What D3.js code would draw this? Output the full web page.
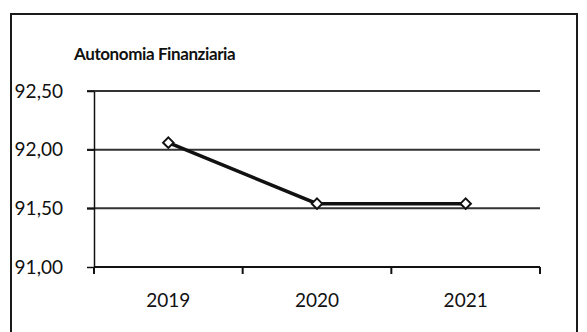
<!DOCTYPE html>
<html>
<head>
<meta charset="utf-8">
<script src="https://cdn.jsdelivr.net/npm/d3@7"></script>
<style>
  html, body { margin: 0; padding: 0; background: #fff; }
  svg { display: block; }
  text { font-family: "Lato", "Open Sans", sans-serif; fill: #111; }
</style>
</head>
<body>
<svg id="chart" width="587" height="332"></svg>
<script>
const title = "Autonomia Finanziaria";
const years = ["2019", "2020", "2021"];
const values = [92.06, 91.54, 91.54];
const yTicks = [91.0, 91.5, 92.0, 92.5];

const svg = d3.select("#chart");
const W = 587, H = 332;
const plot = { left: 94, right: 540, top: 91, bottom: 267 };

// outer frame (left, top, right edges)
svg.append("path")
  .attr("d", `M11,${H} L11,14 L577,14 L577,${H}`)
  .attr("fill", "none")
  .attr("stroke", "#1a1a1a")
  .attr("stroke-width", 2);

const x = d3.scaleBand().domain(years).range([plot.left, plot.right]).padding(0);
const y = d3.scaleLinear().domain([91.0, 92.5]).range([plot.bottom, plot.top]);

// horizontal gridlines
svg.append("g")
  .selectAll("line")
  .data(yTicks.filter(d => d > 91.0))
  .join("line")
  .attr("x1", plot.left - 7)
  .attr("x2", plot.right)
  .attr("y1", d => y(d))
  .attr("y2", d => y(d))
  .attr("stroke", "#333")
  .attr("stroke-width", 2);

// y axis
const fmt = d => d3.format(".2f")(d).replace(".", ",");
const yAxis = svg.append("g")
  .attr("transform", `translate(${plot.left},0)`)
  .call(d3.axisLeft(y).tickValues(yTicks).tickFormat(fmt).tickSize(7).tickSizeOuter(0));
yAxis.select(".domain").attr("stroke", "#111").attr("stroke-width", 1.5);
yAxis.selectAll(".tick line").attr("stroke", "#111").attr("stroke-width", 1.5);
yAxis.selectAll(".tick text")
  .attr("x", -31)
  .attr("text-anchor", "end")
  .style("font-size", "19px")
  .style("font-family", "Lato, 'Open Sans', sans-serif")
  .attr("fill", "#111");

// x axis with ticks at category boundaries
const xAxis = svg.append("g")
  .attr("transform", `translate(0,${plot.bottom})`);
xAxis.append("line")
  .attr("x1", plot.left).attr("x2", plot.right)
  .attr("stroke", "#111").attr("stroke-width", 2);
const bounds = years.map(d => x(d)).concat([x(years[years.length - 1]) + x.bandwidth()]);
xAxis.selectAll("line.tick")
  .data(bounds)
  .join("line")
  .attr("class", "tick")
  .attr("x1", d => d).attr("x2", d => d)
  .attr("y1", 0).attr("y2", 7)
  .attr("stroke", "#111").attr("stroke-width", 2);
xAxis.selectAll("text")
  .data(years)
  .join("text")
  .attr("x", d => x(d) + x.bandwidth() / 2)
  .attr("y", 40)
  .attr("text-anchor", "middle")
  .style("font-size", "19px")
  .text(d => d);

// title
svg.append("text")
  .attr("x", 74)
  .attr("y", 60)
  .style("font-size", "17px")
  .style("font-weight", "bold")
  .style("letter-spacing", "-0.4px")
  .text(title);

// series line
const pts = years.map((d, i) => [x(d) + x.bandwidth() / 2, y(values[i])]);
svg.append("path")
  .attr("d", d3.line()(pts))
  .attr("fill", "none")
  .attr("stroke", "#111")
  .attr("stroke-width", 3.5);

// diamond markers
svg.append("g")
  .selectAll("path")
  .data(pts)
  .join("path")
  .attr("transform", d => `translate(${d[0]},${d[1]})`)
  .attr("d", d3.symbol(d3.symbolDiamond2, 70)())
  .attr("fill", "#fff")
  .attr("stroke", "#111")
  .attr("stroke-width", 2);
</script>
</body>
</html>
